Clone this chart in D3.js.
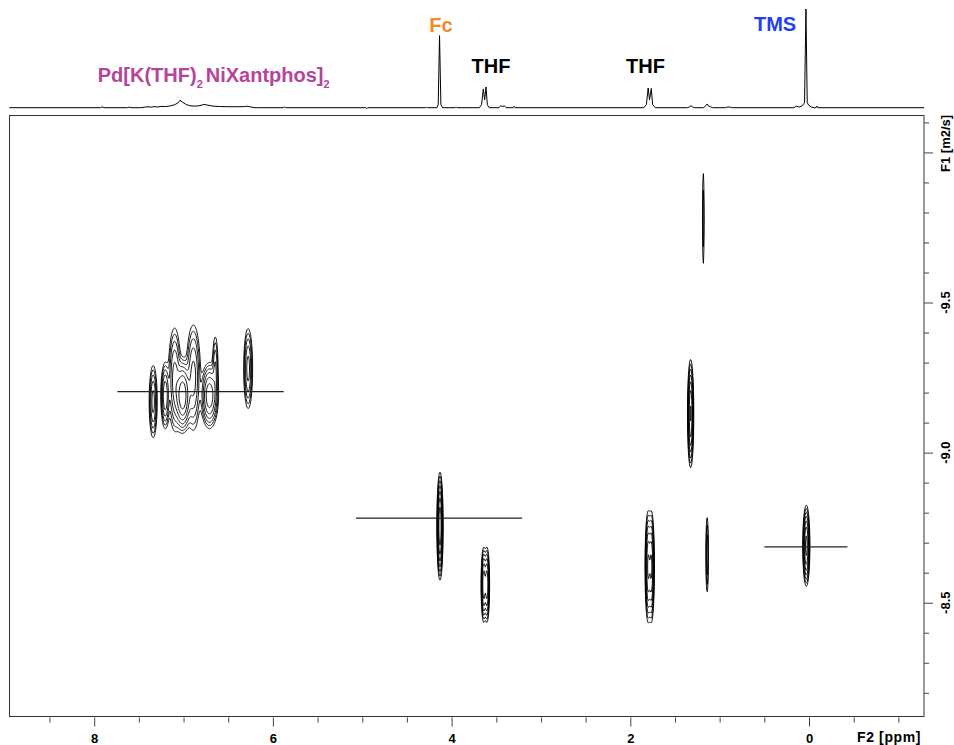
<!DOCTYPE html>
<html>
<head>
<meta charset="utf-8">
<script src="https://cdn.jsdelivr.net/npm/d3@7"></script>
<style>
  body { margin: 0; background: #fff; }
  svg { display: block; font-family: Arial, "Liberation Sans", sans-serif; }
</style>
</head>
<body>
<div id="dosy"></div>
<script>
// 1D projection (F2): [ppm, intensity in % of TMS]
const trace = [
  [8.95, 0], [7.93, 0], [7.91, 0.9], [7.89, 0], [7.63, 0], [7.61, 0.6], [7.59, 0],
  [7.48, 0], [7.44, 0.5], [7.40, 0.9], [7.36, 0.6], [7.33, 1.1], [7.29, 0.7], [7.25, 1.3],
  [7.20, 1.2], [7.15, 1.8], [7.10, 3.0], [7.06, 5.0], [7.04, 7.5], [7.01, 5.5], [6.97, 3.2],
  [6.93, 2.0], [6.88, 1.6], [6.83, 1.9], [6.79, 2.8], [6.77, 3.3], [6.73, 2.6], [6.67, 1.6],
  [6.60, 1.2], [6.50, 1.0], [6.40, 1.0], [6.32, 1.1], [6.29, 1.5], [6.26, 1.0], [6.22, 0.2],
  [6.18, 0], [5.88, 0], [5.87, 1.0], [5.86, 0], [4.96, 0], [4.95, -0.9], [4.94, 0],
  [4.29, 0], [4.28, 0.5], [4.27, 0],
  [4.165, 0], [4.15, 3], [4.135, 73], [4.12, 3], [4.10, 0],
  [3.96, 0], [3.95, 0.9], [3.94, 0],
  [3.69, 0], [3.665, 3], [3.645, 19], [3.63, 8], [3.615, 21], [3.60, 3], [3.58, 0],
  [3.47, 0], [3.45, 2], [3.43, 1.2], [3.41, 2], [3.39, 0], [3.31, 0], [3.30, 1.4], [3.29, 0],
  [1.85, 0], [1.82, 3], [1.80, 20], [1.785, 8], [1.765, 19.5], [1.75, 3], [1.72, 0],
  [1.36, 0], [1.335, 1], [1.32, 2], [1.30, 0.6], [1.28, 0],
  [1.18, 0], [1.155, 2], [1.14, 3.8], [1.125, 1.8], [1.10, 0.8], [1.08, 0],
  [0.93, 0], [0.925, 0.6], [0.875, 0.6], [0.87, 0],
  [0.17, 0], [0.14, 1.6], [0.11, 0.6], [0.075, 2.0], [0.05, 5], [0.034, 100], [0.02, 5],
  [0.0, 2.2], [-0.03, 0.5], [-0.06, 0], [-0.08, 0], [-0.09, 1.6], [-0.10, 0], [-1.287, 0]
]

// 2D cross peaks: [ppm, log D, half width (ppm), half height (log D), amplitude]
const crossPeaks = [
  [1.183, -9.78, 0.009, 0.15, 2.2],
  [1.325, -9.13, 0.035, 0.18, 18],
  [4.130, -8.755, 0.035, 0.18, 25],
  [3.640, -8.56, 0.03, 0.125, 15],
  [3.605, -8.56, 0.03, 0.125, 15],
  [1.800, -8.62, 0.035, 0.185, 18],
  [1.765, -8.62, 0.035, 0.185, 18],
  [1.140, -8.66, 0.014, 0.125, 4],
  [0.030, -8.69, 0.04, 0.135, 20],
  [7.34, -9.17, 0.045, 0.12, 8],
  [7.205, -9.19, 0.05, 0.11, 10],
  [7.10, -9.245, 0.07, 0.17, 8],
  [7.01, -9.19, 0.10, 0.125, 25],
  [6.89, -9.25, 0.08, 0.175, 8],
  [6.71, -9.19, 0.10, 0.11, 15],
  [6.645, -9.285, 0.03, 0.10, 4],
  [6.277, -9.28, 0.05, 0.133, 8]
]

// diffusion fit lines: [ppm from, ppm to, log D]
const fitLines = [
  [7.74, 5.88, -9.203],
  [5.07, 3.21, -8.782],
  [0.50, -0.43, -8.686]
]

// labels over the 1D trace: [text, ppm, colour]
const peakLabels = [
  ["Fc", 4.12, "#f7872a"],
  ["THF", 3.56, "#000"],
  ["THF", 1.83, "#000"],
  ["TMS", 0.38, "#1d41f2"]
]

const contourLevels = [1, 1.6, 2.56, 4.1, 6.55, 10.5, 16.8, 26.8]

const f2Major = [8, 6, 4, 2, 0]
const f2Minor = [8.5, 7.5, 7, 6.5, 5.5, 5, 4.5, 3.5, 3, 2.5, 1.5, 1, 0.5, -0.5, -1]
const f1Major = [-10, -9.5, -9, -8.5]
const f1Minor = [-10.1, -9.9, -9.8, -9.7, -9.6, -9.4, -9.3, -9.2, -9.1, -8.9, -8.8, -8.7, -8.6, -8.4, -8.3, -8.2]
const f1Labels = [-9.5, -9.0, -8.5]

function drawDosy() {

  const dimensions = {
    width: 954,
    height: 745,
    box: { left: 9.5, right: 924, top: 115.5, bottom: 716.5 },
    baseline: 107.7,
    specTop: 9
  }

  const svg = d3.select("#dosy")
    .append("svg")
      .attr("width", dimensions.width)
      .attr("height", dimensions.height)

  const xScale = d3.scaleLinear()
    .domain([8.948, -1.287])
    .range([dimensions.box.left, dimensions.box.right])

  const yScale = d3.scaleLinear()
    .domain([-10.123, -8.121])
    .range([dimensions.box.top, dimensions.box.bottom])

  const specScale = d3.scaleLinear()
    .domain([0, 100])
    .range([dimensions.baseline, dimensions.specTop])

  // 1D trace on top
  const line = d3.line()
    .x(d => xScale(d[0]))
    .y(d => specScale(d[1]))

  svg.append("path")
    .datum(trace)
    .attr("d", line)
    .attr("fill", "none")
    .attr("stroke", "#000")
    .attr("stroke-width", 1)

  // labels
  const labelY = { "Fc": 31.7, "THF": 72.8, "TMS": 30.7 }
  svg.selectAll(".peak-label")
    .data(peakLabels)
    .join("text")
      .attr("class", "peak-label")
      .attr("x", d => xScale(d[1]))
      .attr("y", d => labelY[d[0]])
      .attr("text-anchor", "middle")
      .attr("fill", d => d[2])
      .style("font-size", "20px")
      .style("font-weight", "bold")
      .text(d => d[0])

  const pdLabel = svg.append("text")
    .attr("x", xScale(7.96))
    .attr("y", 81.7)
    .attr("fill", "#b5449b")
    .style("font-size", "20px")
    .style("font-weight", "bold")
  pdLabel.append("tspan").text("Pd[K(THF)")
  pdLabel.append("tspan").attr("dy", 6).style("font-size", "11px").text("2")
  pdLabel.append("tspan").attr("dy", -6).attr("dx", 3).text("NiXantphos]")
  pdLabel.append("tspan").attr("dy", 6).style("font-size", "11px").text("2")

  // 2D frame
  svg.append("clipPath").attr("id", "box-clip")
    .append("rect")
      .attr("x", dimensions.box.left)
      .attr("y", dimensions.box.top)
      .attr("width", dimensions.box.right - dimensions.box.left)
      .attr("height", dimensions.box.bottom - dimensions.box.top)

  const plot = svg.append("g").attr("clip-path", "url(#box-clip)")

  // contour field on a grid
  const [p0, p1] = xScale.domain()
  const [d0, d1] = yScale.domain()
  const nx = 1830, ny = 601
  const ppmAt = i => p0 + (p1 - p0) * i / nx
  const logDAt = j => d0 + (d1 - d0) * j / ny
  const iOf = p => (p - p0) / (p1 - p0) * nx
  const jOf = d => (d - d0) / (d1 - d0) * ny
  const grid = new Float64Array(nx * ny)

  crossPeaks.forEach(([p, d, hx, hy, amp]) => {
    const r = Math.sqrt(2 * Math.log(amp))
    const sx = hx / r, sy = hy / r
    const i0 = Math.max(0, Math.floor(iOf(p + 4 * sx)))
    const i1 = Math.min(nx - 1, Math.ceil(iOf(p - 4 * sx)))
    const j0 = Math.max(0, Math.floor(jOf(d - 4 * sy)))
    const j1 = Math.min(ny - 1, Math.ceil(jOf(d + 4 * sy)))
    for (let j = j0; j <= j1; j++) {
      const v = (logDAt(j + 0.5) - d) / sy
      for (let i = i0; i <= i1; i++) {
        const u = (ppmAt(i + 0.5) - p) / sx
        grid[j * nx + i] += amp * Math.exp(-0.5 * (u * u + v * v))
      }
    }
  })

  const contours = d3.contours()
    .size([nx, ny])
    .thresholds(contourLevels)(grid)

  const toScreen = d3.geoTransform({
    point(x, y) { this.stream.point(xScale(ppmAt(x)), yScale(logDAt(y))) }
  })

  plot.selectAll(".contour")
    .data(contours)
    .join("path")
      .attr("class", "contour")
      .attr("d", d3.geoPath(toScreen))
      .attr("fill", "none")
      .attr("stroke", "#000")
      .attr("stroke-width", 0.9)

  plot.selectAll(".fit")
    .data(fitLines)
    .join("line")
      .attr("class", "fit")
      .attr("x1", d => xScale(d[0]))
      .attr("x2", d => xScale(d[1]))
      .attr("y1", d => yScale(d[2]))
      .attr("y2", d => yScale(d[2]))
      .attr("stroke", "#222")
      .attr("stroke-width", 1.3)

  svg.append("rect")
    .attr("x", dimensions.box.left)
    .attr("y", dimensions.box.top)
    .attr("width", dimensions.box.right - dimensions.box.left)
    .attr("height", dimensions.box.bottom - dimensions.box.top)
    .attr("fill", "none")
    .attr("stroke", "#333")
    .attr("stroke-width", 1)

  // F2 axis (bottom)
  const xAxisMinor = svg.append("g")
    .attr("transform", `translate(0,${dimensions.box.bottom + 1})`)
    .call(d3.axisBottom(xScale).tickValues(f2Minor).tickSize(5).tickFormat(""))
  const xAxisMajor = svg.append("g")
    .attr("transform", `translate(0,${dimensions.box.bottom + 1})`)
    .call(d3.axisBottom(xScale).tickValues(f2Major).tickSize(9).tickPadding(7).tickFormat(d => String(d)))
  ;[xAxisMinor, xAxisMajor].forEach(g => {
    g.select(".domain").remove()
    g.selectAll("line").attr("stroke", "#444")
    g.selectAll("text").attr("fill", "#000").style("font-size", "13px").style("font-weight", "bold")
      .style("font-family", "Arial, 'Liberation Sans', sans-serif")
  })

  svg.append("text")
    .attr("x", 921)
    .attr("y", 741.7)
    .attr("text-anchor", "end")
    .style("font-size", "14px")
    .style("font-weight", "bold")
    .style("letter-spacing", "0.6px")
    .text("F2 [ppm]")

  // F1 axis (right)
  const yAxisMinor = svg.append("g")
    .attr("transform", `translate(${dimensions.box.right},0)`)
    .call(d3.axisRight(yScale).tickValues(f1Minor).tickSize(5).tickFormat(""))
  const yAxisMajor = svg.append("g")
    .attr("transform", `translate(${dimensions.box.right},0)`)
    .call(d3.axisRight(yScale).tickValues(f1Major).tickSize(9).tickFormat(""))
  ;[yAxisMinor, yAxisMajor].forEach(g => {
    g.select(".domain").remove()
    g.selectAll("line").attr("stroke", "#444")
  })

  svg.selectAll(".f1-label")
    .data(f1Labels)
    .join("text")
      .attr("class", "f1-label")
      .attr("transform", d => `translate(945,${yScale(d)}) rotate(-90)`)
      .attr("text-anchor", "middle")
      .attr("dy", "0.36em")
      .style("font-size", "13px")
      .style("font-weight", "bold")
      .text(d => d.toFixed(1))

  svg.append("text")
    .attr("transform", `translate(945,${yScale(-10.03)}) rotate(-90)`)
    .attr("text-anchor", "middle")
    .attr("dy", "0.36em")
    .style("font-size", "13px")
    .style("font-weight", "bold")
    .text("F1 [m2/s]")
}

drawDosy()
</script>
</body>
</html>
